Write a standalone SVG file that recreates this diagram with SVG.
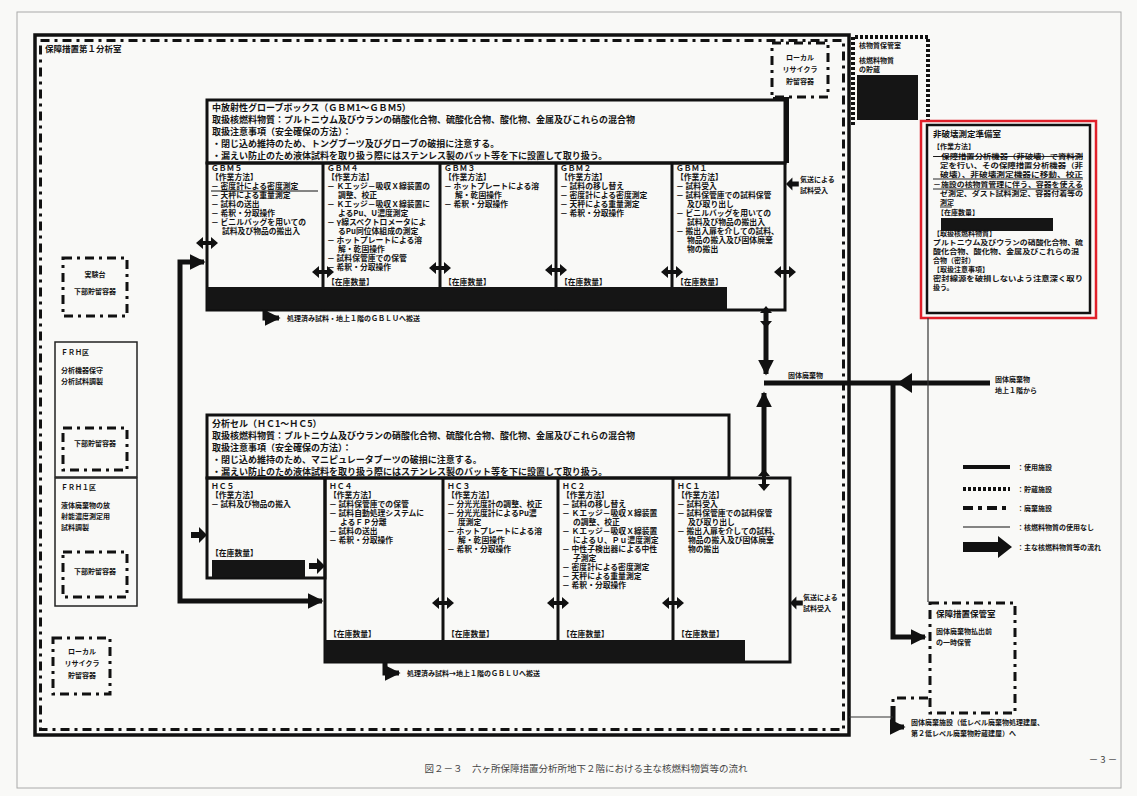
<svg xmlns="http://www.w3.org/2000/svg" width="1137" height="796" viewBox="0 0 1137 796">
<defs>
<style>
.t{font-family:"Noto Sans CJK JP","Noto Sans",sans-serif;font-weight:700;font-size:7.8px;fill:#141414}
.h{font-size:9px}
.s{font-size:7px}
.m{font-size:8.5px}
.box{fill:none;stroke:#111;stroke-width:3}
.dd{fill:none;stroke:#111;stroke-width:3;stroke-dasharray:9 5 3 5}
.dot{fill:none;stroke:#111;stroke-width:4;stroke-dasharray:3 2}
.thin{fill:none;stroke:#333;stroke-width:1.2}
.bar{fill:#151515}
.con{fill:none;stroke:#111;stroke-width:5}
.cap{font-family:"Noto Sans CJK JP",sans-serif;font-size:9.5px;fill:#444}
</style>
<marker id="ah" viewBox="0 0 10 10" refX="9" refY="5" markerWidth="3.2" markerHeight="3.2" orient="auto"><path d="M0,0 L10,5 L0,10 z" fill="#111"/></marker>
<path id="dh" d="M-11,0 L-4,-6 L-4,-2 L4,-2 L4,-6 L11,0 L4,6 L4,2 L-4,2 L-4,6 Z" fill="#111"/>
<path id="ar" d="M-16,-3 L-8,-3 L-8,-8 L0,0 L-8,8 L-8,3 L-16,3 Z" fill="#111"/>
</defs>
<rect x="0" y="0" width="1137" height="796" fill="#f9f9f7"/>
<rect x="17" y="12" width="1104" height="776" fill="none" stroke="#aaa" stroke-width="1"/>

<g id="room1">
<rect x="35" y="35" width="814" height="700" fill="none" stroke="#111" stroke-width="3.5"/>
<rect x="40.5" y="40.5" width="803" height="689" class="dd" stroke-width="2.5"/>
<text class="t m" x="45" y="52">保障措置第１分析室</text>
</g>

<g id="recycler-top">
<rect x="772" y="43" width="56" height="54" class="dd"/>
<text class="t s" x="800" y="60" text-anchor="middle">ローカル</text>
<text class="t s" x="800" y="72" text-anchor="middle">リサイクラ</text>
<text class="t s" x="800" y="84" text-anchor="middle">貯留容器</text>
</g>

<g id="storage">
<path d="M853,125 V37 H928 V122" class="dot"/>
<text class="t s" x="859" y="48">核物質保管室</text>
<text class="t s" x="859" y="63">核燃料物質</text>
<text class="t s" x="859" y="72">の貯蔵</text>
<rect x="857" y="75" width="61" height="45" class="bar"/>
</g>

<g id="nda-room">
<rect x="921" y="121" width="175" height="197" fill="none" stroke="#e0202a" stroke-width="2.5"/>
<rect x="927" y="125" width="163" height="188" fill="none" stroke="#111" stroke-width="2.5"/>
<text class="t m" x="933" y="137">非破壊測定準備室</text>
<text class="t s" x="933" y="149">【作業方法】</text>
<text class="t s" x="933" y="159" textLength="150" lengthAdjust="spacingAndGlyphs">－保障措置分析機器（非破壊）で資料測</text>
<line x1="933" y1="156.5" x2="1083" y2="156.5" stroke="#111" stroke-width="0.9"/>
<text class="t s" x="940" y="168" textLength="143" lengthAdjust="spacingAndGlyphs">定を行い、その保障措置分析機器（非</text>
<text class="t s" x="940" y="177" textLength="143" lengthAdjust="spacingAndGlyphs">破壊）、非破壊測定機器に移動、校正</text>
<line x1="933" y1="179" x2="1083" y2="179" stroke="#111" stroke-width="0.9"/>
<text class="t s" x="933" y="187" textLength="150" lengthAdjust="spacingAndGlyphs">－施設の核物質管理に伴う、容器を使える</text>
<line x1="933" y1="189" x2="1083" y2="189" stroke="#111" stroke-width="0.9"/>
<text class="t s" x="940" y="196" textLength="143" lengthAdjust="spacingAndGlyphs">ゼ測定、ダスト試料測定、容器付着等の</text>
<text class="t s" x="940" y="205">測定</text>
<line x1="940" y1="207" x2="952" y2="207" stroke="#111" stroke-width="0.9"/>
<text class="t s" x="937" y="215">【在庫数量】</text>
<rect x="941" y="218" width="112" height="13" class="bar"/>
<text class="t s" x="933" y="236">【取扱核燃料物質】</text>
<text class="t s" x="933" y="245" textLength="150" lengthAdjust="spacingAndGlyphs">プルトニウム及びウランの硝酸化合物、硫</text>
<text class="t s" x="933" y="254" textLength="146" lengthAdjust="spacingAndGlyphs">酸化合物、酸化物、金属及びこれらの混</text>
<text class="t s" x="933" y="263">合物（密封）</text>
<text class="t s" x="933" y="272">【取扱注意事項】</text>
<text class="t s" x="933" y="281" textLength="150" lengthAdjust="spacingAndGlyphs">密封線源を破損しないよう注意深く取り</text>
<text class="t s" x="933" y="290">扱う。</text>
</g>

<g id="left-bench">
<rect x="63" y="258" width="64" height="58" class="dd"/>
<text class="t s" x="95" y="277" text-anchor="middle">実験台</text>
<text class="t s" x="95" y="294" text-anchor="middle">下部貯留容器</text>
</g>

<g id="frh1">
<rect x="55" y="342" width="82" height="135" fill="none" stroke="#222" stroke-width="1.5"/>
<text class="t s" x="61" y="355">ＦＲＨ区</text>
<text class="t s" x="61" y="373">分析機器保守</text>
<text class="t s" x="61" y="384">分析試料調製</text>
<rect x="63" y="428" width="64" height="42" class="dd"/>
<text class="t s" x="95" y="446" text-anchor="middle">下部貯留容器</text>
</g>

<g id="frh2">
<rect x="55" y="478" width="82" height="128" fill="none" stroke="#222" stroke-width="1.5"/>
<text class="t s" x="61" y="490">ＦＲＨ１区</text>
<text class="t s" x="61" y="508">液体廃棄物の放</text>
<text class="t s" x="61" y="519">射能濃度測定用</text>
<text class="t s" x="61" y="530">試料調製</text>
<rect x="63" y="552" width="64" height="45" class="dd"/>
<text class="t s" x="95" y="574" text-anchor="middle">下部貯留容器</text>
</g>

<g id="recycler-bottom">
<rect x="53" y="638" width="57" height="56" class="dd"/>
<text class="t s" x="82" y="654" text-anchor="middle">ローカル</text>
<text class="t s" x="82" y="666" text-anchor="middle">リサイクラ</text>
<text class="t s" x="82" y="678" text-anchor="middle">貯留容器</text>
</g>

<g id="gbm-header">
<rect x="207" y="100" width="578" height="63" class="box" stroke-width="2.5"/>
<path d="M773,99 H787 V163" fill="none" stroke="#111" stroke-width="4"/>
<text class="t h" x="212" y="111">中放射性グローブボックス（ＧＢＭ1～ＧＢＭ5）</text>
<text class="t h" x="212" y="123">取扱核燃料物質：プルトニウム及びウランの硝酸化合物、硫酸化合物、酸化物、金属及びこれらの混合物</text>
<text class="t h" x="212" y="135">取扱注意事項（安全確保の方法）：</text>
<text class="t h" x="212" y="147">・閉じ込め維持のため、トングブーツ及びグローブの破損に注意する。</text>
<text class="t h" x="212" y="159">・漏えい防止のため液体試料を取り扱う際にはステンレス製のバット等を下に設置して取り扱う。</text>
</g>

<g id="gbm-cells">
<rect x="207" y="163" width="578" height="147" class="box"/>
<line x1="323" y1="163" x2="323" y2="310" stroke="#111" stroke-width="3"/>
<line x1="440" y1="163" x2="440" y2="310" stroke="#111" stroke-width="3"/>
<line x1="556" y1="163" x2="556" y2="310" stroke="#111" stroke-width="3"/>
<line x1="672" y1="163" x2="672" y2="310" stroke="#111" stroke-width="3"/>
<rect x="207" y="287" width="520" height="22" class="bar"/>
</g>

<g id="gbm5">
<text class="t" x="211" y="171">ＧＢＭ５</text>
<text class="t" x="211" y="180">【作業方法】</text>
<text class="t" x="211" y="189">－ 密度計による密度測定</text>
<line x1="211" y1="191" x2="318" y2="191" stroke="#111" stroke-width="1"/>
<text class="t" x="211" y="198">－ 天秤による重量測定</text>
<text class="t" x="211" y="207">－ 試料の送出</text>
<text class="t" x="211" y="216">－ 希釈・分取操作</text>
<text class="t" x="211" y="225">－ ビニルバッグを用いての</text>
<text class="t" x="222" y="234">試料及び物品の搬出入</text>
</g>

<g id="gbm4">
<text class="t" x="327" y="171">ＧＢＭ４</text>
<text class="t" x="327" y="180">【作業方法】</text>
<text class="t" x="327" y="189">－ Ｋエッジ－吸収Ｘ線装置の</text>
<text class="t" x="338" y="198">調整、校正</text>
<text class="t" x="327" y="207">－ Ｋエッジ－吸収Ｘ線装置に</text>
<text class="t" x="338" y="216">よるPu、U濃度測定</text>
<text class="t" x="327" y="225">－ γ線スペクトロメータによ</text>
<text class="t" x="338" y="234">るPu同位体組成の測定</text>
<text class="t" x="327" y="243">－ ホットプレートによる溶</text>
<text class="t" x="338" y="252">解・乾固操作</text>
<text class="t" x="327" y="261">－ 試料保管庫での保管</text>
<text class="t" x="327" y="270">－ 希釈・分取操作</text>
<text class="t" x="327" y="285">【在庫数量】</text>
</g>

<g id="gbm3">
<text class="t" x="444" y="171">ＧＢＭ３</text>
<text class="t" x="444" y="180">【作業方法】</text>
<text class="t" x="444" y="189">－ ホットプレートによる溶</text>
<text class="t" x="455" y="198">解・乾固操作</text>
<text class="t" x="444" y="207">－ 希釈・分取操作</text>
<text class="t" x="444" y="285">【在庫数量】</text>
</g>

<g id="gbm2">
<text class="t" x="560" y="171">ＧＢＭ２</text>
<text class="t" x="560" y="180">【作業方法】</text>
<text class="t" x="560" y="189">－ 試料の移し替え</text>
<text class="t" x="560" y="198">－ 密度計による密度測定</text>
<text class="t" x="560" y="207">－ 天秤による重量測定</text>
<text class="t" x="560" y="216">－ 希釈・分取操作</text>
<text class="t" x="560" y="285">【在庫数量】</text>
</g>

<g id="gbm1">
<text class="t" x="676" y="171">ＧＢＭ１</text>
<text class="t" x="676" y="180">【作業方法】</text>
<text class="t" x="676" y="189">－ 試料受入</text>
<text class="t" x="676" y="198">－ 試料保管庫での試料保管</text>
<text class="t" x="687" y="207">及び取り出し</text>
<text class="t" x="676" y="216">－ ビニルバッグを用いての</text>
<text class="t" x="687" y="225">試料及び物品の搬出入</text>
<text class="t" x="676" y="234">－ 搬出入扉を介しての試料、</text>
<text class="t" x="687" y="243">物品の搬入及び固体廃棄</text>
<text class="t" x="687" y="252">物の搬出</text>
<text class="t" x="676" y="285">【在庫数量】</text>
</g>

<g id="hc-header">
<rect x="207" y="415" width="522" height="63" class="box" stroke-width="2.5"/>
<text class="t h" x="212" y="427">分析セル（ＨＣ1～ＨＣ5）</text>
<text class="t h" x="212" y="439">取扱核燃料物質：プルトニウム及びウランの硝酸化合物、硫酸化合物、酸化物、金属及びこれらの混合物</text>
<text class="t h" x="212" y="451">取扱注意事項（安全確保の方法）：</text>
<text class="t h" x="212" y="463">・閉じ込め維持のため、マニピュレータブーツの破損に注意する。</text>
<text class="t h" x="212" y="475">・漏えい防止のため液体試料を取り扱う際にはステンレス製のバット等を下に設置して取り扱う。</text>
</g>

<g id="hc5">
<rect x="207" y="478" width="118" height="100" class="box"/>
<rect x="212" y="560" width="93" height="17" class="bar"/>
<text class="t" x="211" y="489">ＨＣ５</text>
<text class="t" x="211" y="498">【作業方法】</text>
<text class="t" x="211" y="507">－ 試料及び物品の搬入</text>
<text class="t" x="211" y="556">【在庫数量】</text>
</g>

<g id="hc-cells">
<rect x="325" y="478" width="465" height="184" class="box"/>
<line x1="443" y1="478" x2="443" y2="662" stroke="#111" stroke-width="3"/>
<line x1="558" y1="478" x2="558" y2="662" stroke="#111" stroke-width="3"/>
<line x1="673" y1="478" x2="673" y2="662" stroke="#111" stroke-width="3"/>
<rect x="325" y="640" width="420" height="22" class="bar"/>
</g>

<g id="hc4">
<text class="t" x="329" y="489">ＨＣ４</text>
<text class="t" x="329" y="498">【作業方法】</text>
<text class="t" x="329" y="507">－ 試料保管庫での保管</text>
<text class="t" x="329" y="516">－ 試料自動処理システムに</text>
<text class="t" x="340" y="525">よるＦＰ分離</text>
<text class="t" x="329" y="534">－ 試料の送出</text>
<text class="t" x="329" y="543">－ 希釈・分取操作</text>
<text class="t" x="329" y="637">【在庫数量】</text>
</g>

<g id="hc3">
<text class="t" x="447" y="489">ＨＣ３</text>
<text class="t" x="447" y="498">【作業方法】</text>
<text class="t" x="447" y="507">－ 分光光度計の調整、校正</text>
<text class="t" x="447" y="516">－ 分光光度計によるPu濃</text>
<text class="t" x="458" y="525">度測定</text>
<text class="t" x="447" y="534">－ ホットプレートによる溶</text>
<text class="t" x="458" y="543">解・乾固操作</text>
<text class="t" x="447" y="552">－ 希釈・分取操作</text>
<text class="t" x="447" y="637">【在庫数量】</text>
</g>

<g id="hc2">
<text class="t" x="562" y="489">ＨＣ２</text>
<text class="t" x="562" y="498">【作業方法】</text>
<text class="t" x="562" y="507">－ 試料の移し替え</text>
<text class="t" x="562" y="516">－ Ｋエッジ－吸収Ｘ線装置</text>
<text class="t" x="573" y="525">の調整、校正</text>
<text class="t" x="562" y="534">－ Ｋエッジ－吸収Ｘ線装置</text>
<text class="t" x="573" y="543">によるＵ、Ｐｕ濃度測定</text>
<text class="t" x="562" y="552">－ 中性子検出器による中性</text>
<text class="t" x="573" y="561">子測定</text>
<text class="t" x="562" y="570">－ 密度計による密度測定</text>
<text class="t" x="562" y="579">－ 天秤による重量測定</text>
<text class="t" x="562" y="588">－ 希釈・分取操作</text>
<text class="t" x="562" y="637">【在庫数量】</text>
</g>

<g id="hc1">
<text class="t" x="677" y="489">ＨＣ１</text>
<text class="t" x="677" y="498">【作業方法】</text>
<text class="t" x="677" y="507">－ 試料受入</text>
<text class="t" x="677" y="516">－ 試料保管庫での試料保管</text>
<text class="t" x="688" y="525">及び取り出し</text>
<text class="t" x="677" y="534">－ 搬出入扉を介しての試料、</text>
<text class="t" x="688" y="543">物品の搬入及び固体廃棄</text>
<text class="t" x="688" y="552">物の搬出</text>
<text class="t" x="677" y="637">【在庫数量】</text>
</g>

<g id="sg-storage">
<rect x="930" y="603" width="85" height="110" class="dd"/>
<path d="M893,716 V698 H930" class="dd"/>
<text class="t m" x="936" y="617">保障措置保管室</text>
<text class="t s" x="936" y="634">固体廃棄物払出前</text>
<text class="t s" x="936" y="645">の一時保管</text>
</g>

<g id="legend">
<line x1="963" y1="467" x2="1010" y2="467" stroke="#111" stroke-width="4"/>
<line x1="963" y1="489" x2="1010" y2="489" stroke="#111" stroke-width="4" stroke-dasharray="3 2"/>
<line x1="963" y1="508" x2="1010" y2="508" stroke="#111" stroke-width="4" stroke-dasharray="10 5 4 5"/>
<line x1="963" y1="527" x2="1010" y2="527" stroke="#111" stroke-width="1.2"/>
<polygon points="963,542 998,542 998,536 1012,547 998,558 998,552 963,552" fill="#111"/>
<text class="t s" x="1017" y="470">：使用施設</text>
<text class="t s" x="1017" y="492">：貯蔵施設</text>
<text class="t s" x="1017" y="511">：廃棄施設</text>
<text class="t s" x="1017" y="530">：核燃料物質の使用なし</text>
<text class="t s" x="1017" y="550">：主な核燃料物質等の流れ</text>
</g>

<g id="connectors">
<path d="M180,430 V262 H204" class="con" marker-end="url(#ah)"/>
<path d="M180,430 V601 H322" class="con" marker-end="url(#ah)"/>
<use href="#dh" transform="translate(207,243)"/>
<use href="#dh" transform="translate(323,272)"/>
<use href="#dh" transform="translate(440,268)"/>
<use href="#dh" transform="translate(556,270)"/>
<use href="#dh" transform="translate(672,272)"/>
<use href="#dh" transform="translate(785,272)"/>
<use href="#ar" transform="translate(786,184) rotate(180) scale(0.8)"/>
<text class="t s" x="800" y="182">気送による</text>
<text class="t s" x="800" y="193">試料受入</text>
<use href="#ar" transform="translate(207,535)"/>
<use href="#ar" transform="translate(325,566)"/>
<use href="#dh" transform="translate(443,603)"/>
<use href="#dh" transform="translate(558,603)"/>
<use href="#dh" transform="translate(673,603)"/>
<use href="#ar" transform="translate(790,603) rotate(180) scale(0.8)"/>
<text class="t s" x="803" y="600">気送による</text>
<text class="t s" x="803" y="611">試料受入</text>
<path d="M265,309 V318 H279" class="con" marker-end="url(#ah)"/>
<text class="t s" x="287" y="321">処理済み試料・地上１階のＧＢＬＵへ搬送</text>
<path d="M385,662 V673 H399" class="con" marker-end="url(#ah)"/>
<text class="t s" x="407" y="676">処理済み試料→地上１階のＧＢＬＵへ搬送</text>
<path d="M766,312 V374" class="con" marker-end="url(#ah)"/>
<use href="#dh" transform="translate(766,317) rotate(90)"/>
<path d="M764,476 V393" class="con" marker-end="url(#ah)"/>
<use href="#dh" transform="translate(764,480) rotate(90)"/>
<path d="M764,383 H990" class="con"/>
<polygon points="897,383 912,373 912,393" fill="#111"/>
<text class="t s" x="788" y="378">固体廃棄物</text>
<text class="t s" x="995" y="382">固体廃棄物</text>
<text class="t s" x="995" y="393">地上１階から</text>
<path d="M893,383 V637 H925" class="con" marker-end="url(#ah)"/>
<path d="M893,706 V727 H904" class="con" marker-end="url(#ah)"/>
<text class="t s" x="911" y="725">固体廃棄施設（低レベル廃棄物処理建屋、</text>
<text class="t s" x="911" y="736">第２低レベル廃棄物貯蔵建屋）へ</text>
<path d="M849,717 H893" class="thin"/>
<path d="M928,318 V602" class="thin"/>
</g>

<text class="cap" x="586" y="772" text-anchor="middle">図２－３　六ヶ所保障措置分析所地下２階における主な核燃料物質等の流れ</text>
<text class="cap" x="1103" y="763" text-anchor="middle" font-size="8">－ 3 －</text>
</svg>
